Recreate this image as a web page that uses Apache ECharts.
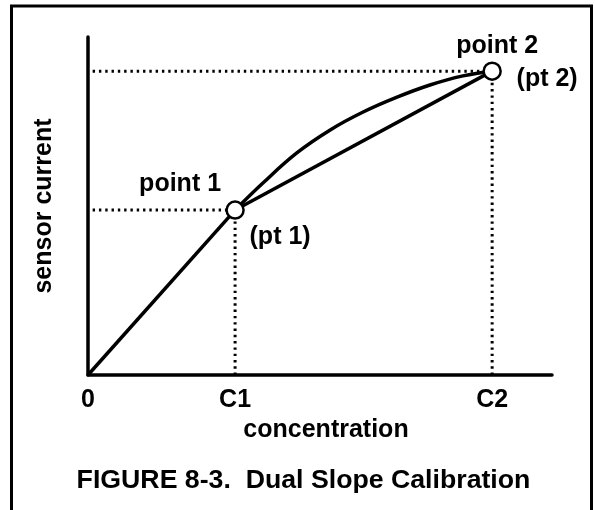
<!DOCTYPE html>
<html>
<head>
<meta charset="utf-8">
<script src="https://cdn.jsdelivr.net/npm/echarts@6/dist/echarts.min.js"></script>
<style>
  html, body { margin: 0; padding: 0; background: #fff; }
  #chart { width: 595px; height: 510px; }
</style>
</head>
<body>
<div id="chart"></div>
<script>
// Concentration (x) and sensor current (y) in arbitrary units
var C1 = 3.17;
var C2 = 8.71;
var point1 = [C1, 4.88];
var point2 = [C2, 8.99];

// Linear response from zero up to point 1
var linearPart = [[0, 0], point1];
// Actual (curved) sensor response between the two calibration points
var curvePart = [point1, [3.77, 5.68], [4.50, 6.57], [5.22, 7.25], [5.93, 7.78],
                 [6.66, 8.22], [7.37, 8.58], [8.08, 8.85], point2];
// Second slope: straight chord between the calibration points
var chordPart = [point1, point2];

var xTickValues = [0, C1, C2];
var xTickLabels = ['0', 'C1', 'C2'];

var FONT = '"Liberation Sans", Arial, sans-serif';
var LABEL = { fontFamily: FONT, fontWeight: 'bold', fontSize: 25, color: '#000' };

var chart = echarts.init(document.getElementById('chart'), null, { renderer: 'canvas' });

function dotted(data) {
  return {
    type: 'line', data: data, symbol: 'none', silent: true, z: 1,
    lineStyle: { color: '#000', width: 3, type: [2.4, 3.9] }
  };
}
function solid(data, smooth) {
  return {
    type: 'line', data: data, symbol: 'none', silent: true, z: 2,
    smooth: smooth || false,
    lineStyle: { color: '#000', width: 3.5 }
  };
}

chart.setOption({
  animation: false,
  grid: { left: 88, right: 43, top: 37, bottom: 135 },
  xAxis: {
    type: 'value', min: 0, max: 10,
    name: 'concentration', nameLocation: 'middle', nameGap: 40,
    nameTextStyle: Object.assign({}, LABEL, { padding: [0, 0, 0, 12] }),
    axisLine: { show: true, lineStyle: { color: '#000', width: 3.5 } },
    axisTick: { show: false },
    splitLine: { show: false },
    axisLabel: Object.assign({}, LABEL, {
      customValues: xTickValues, margin: 13,
      formatter: function (v) {
        for (var i = 0; i < xTickValues.length; i++) {
          if (Math.abs(xTickValues[i] - v) < 1e-6) return xTickLabels[i];
        }
        return '';
      }
    })
  },
  yAxis: {
    type: 'value', min: 0, max: 10,
    name: 'sensor current', nameLocation: 'middle', nameGap: 31, nameRotate: 90,
    nameTextStyle: LABEL,
    axisLine: { show: true, lineStyle: { color: '#000', width: 3.5 } },
    axisTick: { show: false },
    splitLine: { show: false },
    axisLabel: { show: false }
  },
  graphic: [
    { type: 'rect', shape: { x: 11.5, y: 6, width: 580, height: 510 },
      style: { fill: 'none', stroke: '#000', lineWidth: 3 }, silent: true },
    { type: 'text', x: 303.5, y: 481,
      style: { text: 'FIGURE 8-3.  Dual Slope Calibration', font: 'bold 26.7px ' + FONT,
               fill: '#000', textAlign: 'center', textVerticalAlign: 'middle' } }
  ],
  series: [
    dotted([[0.1, point1[1]], point1]),
    dotted([[point1[0], 0], point1]),
    dotted([[0.1, point2[1]], point2]),
    dotted([[point2[0], 0], point2]),
    solid(linearPart),
    solid(curvePart, 0.4),
    solid(chordPart),
    {
      type: 'scatter', z: 5, symbol: 'circle', symbolSize: 17,
      itemStyle: { color: '#fff', borderColor: '#000', borderWidth: 2.5, opacity: 1 },
      data: [
        { value: point1, label: { show: true, formatter: '(pt 1)', position: 'inside', offset: [45, 27] } },
        { value: point2, label: { show: true, formatter: '(pt 2)', position: 'inside', offset: [55, 8] } }
      ],
      label: LABEL
    },
    {
      type: 'scatter', z: 6, symbolSize: 0, silent: true,
      itemStyle: { opacity: 1 },
      data: [
        { value: point1, label: { show: true, formatter: 'point 1', position: 'inside', offset: [-55, -25.5] } },
        { value: point2, label: { show: true, formatter: 'point 2', position: 'inside', offset: [5, -25.5] } }
      ],
      label: LABEL
    }
  ]
});
</script>
</body>
</html>
